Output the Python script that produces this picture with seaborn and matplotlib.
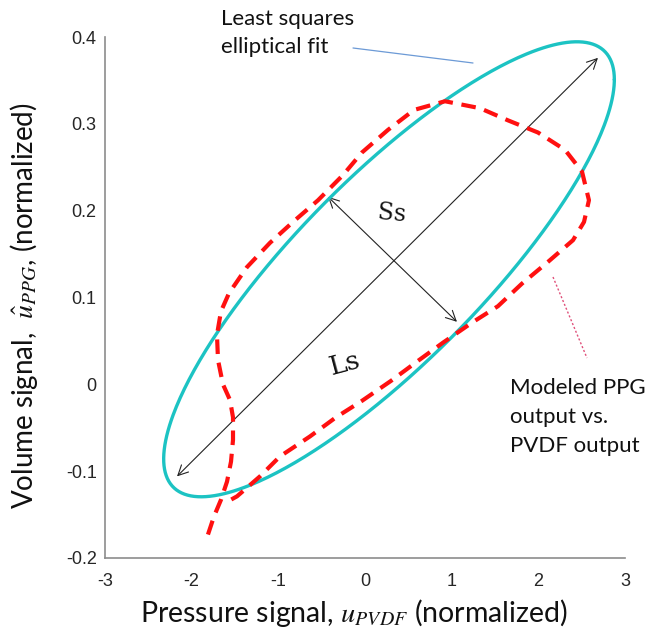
import numpy as np
import pandas as pd
import matplotlib
matplotlib.use("Agg")
import matplotlib.pyplot as plt
import seaborn as sns

# ---- data ----
# Modeled PPG output vs. PVDF output (red dashed trace)
ppg_x = [-1.812, -1.742, -1.662, -1.592, -1.546, -1.523, -1.523, -1.558, -1.639, -1.696,
         -1.708, -1.662, -1.569, -1.362, -1.096, -0.831, -0.542, -0.254, -0.035, 0.265,
         0.565, 0.923, 1.327, 1.650, 1.996, 2.308, 2.504, 2.584, 2.527, 2.400,
         2.111, 1.811, 1.534, 1.234, 0.900, 0.611, 0.300, -0.035, -0.335, -0.635,
         -0.981, -1.212, -1.477, -1.604]
ppg_y = [-0.173, -0.152, -0.133, -0.112, -0.089, -0.064, -0.038, -0.018, 0.000, 0.028,
         0.057, 0.084, 0.105, 0.135, 0.163, 0.187, 0.212, 0.241, 0.267, 0.293,
         0.316, 0.326, 0.318, 0.304, 0.290, 0.270, 0.245, 0.212, 0.187, 0.166,
         0.141, 0.116, 0.090, 0.071, 0.048, 0.027, 0.004, -0.019, -0.038, -0.060,
         -0.083, -0.106, -0.129, -0.136]

# Least squares elliptical fit parameters
ell_center = [0.277, 0.1325]
ell_amp = [2.60, 0.262]
ell_phase = 0.585

# Major (Ls) and minor (Ss) axis arrows
major_axis = [(-2.169, -0.106), (2.688, 0.376)]
minor_axis = [(-0.427, 0.216), (1.061, 0.072)]

x_ticks = [-3, -2, -1, 0, 1, 2, 3]
y_ticks = [-0.2, -0.1, 0, 0.1, 0.2, 0.3, 0.4]
x_ticklabels = ["-3", "-2", "-1", "0", "1", "2", "3"]
y_ticklabels = ["-0.2", "-0.1", "0", "0.1", "0.2", "0.3", "0.4"]

# ---- figure ----
sns.set_theme(style="white")
plt.rcParams["font.family"] = ["Lato", "DejaVu Sans"]
plt.rcParams["mathtext.fontset"] = "stix"

fig = plt.figure(figsize=(6.49, 6.30), dpi=100)
ax = fig.add_axes([105/649, 1-558/630, 520/649, 521/630])

t = np.linspace(0, 2*np.pi, 400)
ell_df = pd.DataFrame({
    "x": ell_center[0] + ell_amp[0]*np.cos(t),
    "y": ell_center[1] + ell_amp[1]*np.cos(t - ell_phase),
})
sns.lineplot(data=ell_df, x="x", y="y", sort=False, estimator=None,
             color="#1cc3c3", lw=2.4, ax=ax, zorder=3)

ppg_df = pd.DataFrame({"x": ppg_x, "y": ppg_y})
sns.lineplot(data=ppg_df, x="x", y="y", sort=False, estimator=None,
             color="#ff1010", lw=3.0, ax=ax, zorder=4)
ax.lines[-1].set_dashes((3.5, 2.1))

for (p0, p1) in (major_axis, minor_axis):
    ax.annotate("", xy=p1, xytext=p0,
                arrowprops=dict(arrowstyle="<->", color="#222222", lw=0.8,
                                mutation_scale=18, shrinkA=0, shrinkB=0),
                zorder=2)

ax.text(0.311, 0.197, "Ss", fontsize=17, family="DejaVu Serif", rotation=-5,
        ha="center", va="center", color="#111111")
ax.text(-0.231, 0.024, "Ls", fontsize=19, family="DejaVu Serif", rotation=15,
        ha="center", va="center", color="#111111")

# annotations
fig.text(221/649, 1-53/630, "Least squares\nelliptical fit", fontsize=16,
         ha="left", va="baseline", linespacing=1.5, color="#111111")
fig.add_artist(plt.Line2D([353/649, 473/649], [1-48/630, 1-63/630],
                          color="#6c9ad6", lw=0.9))
fig.text(510/649, 1-452/630, "Modeled PPG\noutput vs.\nPVDF output", fontsize=16,
         ha="left", va="baseline", linespacing=1.55, color="#111111")
fig.add_artist(plt.Line2D([553/649, 587/649], [1-277/630, 1-358/630],
                          color="#e0507a", lw=1.0, ls=(0, (1.5, 1.5))))

ax.set_xlim(-3, 3)
ax.set_ylim(-0.2, 0.4)
ax.set_xticks(x_ticks)
ax.set_xticklabels(x_ticklabels, family="Liberation Sans", fontsize=13)
ax.set_yticks(y_ticks)
ax.set_yticklabels(y_ticklabels, family="Liberation Sans", fontsize=13)
ax.tick_params(axis="both", direction="in", length=4, width=1.0, color="#8c8c8c")
ax.tick_params(axis="x", pad=11)
ax.tick_params(axis="y", pad=6)
for s in ("top", "right"):
    ax.spines[s].set_visible(False)
for s in ("left", "bottom"):
    ax.spines[s].set_color("#8c8c8c")
    ax.spines[s].set_linewidth(1.2)

ax.set_xlabel(r"Pressure signal, $u_{PVDF}$ (normalized)", fontsize=20.5, color="#111111")
ax.set_ylabel(r"Volume signal,  $\hat{u}_{PPG}$, (normalized)", fontsize=20, color="#111111")
ax.xaxis.set_label_coords(0.479, -0.075)
ax.yaxis.set_label_coords(-0.125, 0.484)

fig.savefig("out.png", dpi=100)
